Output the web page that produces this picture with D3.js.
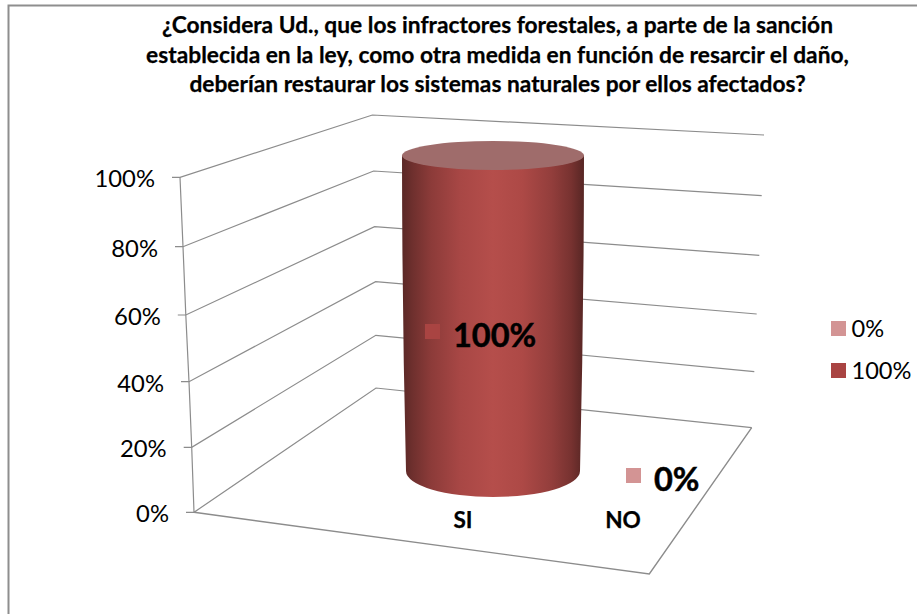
<!DOCTYPE html>
<html lang="es">
<head>
<meta charset="utf-8">
<title>Gráfico</title>
<script src="https://cdn.jsdelivr.net/npm/d3@7"></script>
<style>
html,body{margin:0;padding:0;background:#fff;}
svg{display:block;}
text{font-family:Lato,"Open Sans",sans-serif;fill:#000;}
</style>
</head>
<body>
<div id="chart"></div>
<script>
// ---- data ----
const titleLines = [
  "¿Considera Ud., que los infractores forestales, a parte de la sanción",
  "establecida en la ley, como otra medida en función de resarcir el daño,",
  "deberían restaurar los sistemas naturales por ellos afectados?"
];
const categories = ["SI", "NO"];
const values = [1, 0];
const tickValues = [0, 0.2, 0.4, 0.6, 0.8, 1];
const legendValues = [0, 1];

// ---- layout: calibration of the perspective edges (pixel positions per axis value) ----
const W = 917, H = 614;
const frontX = d3.scaleLinear().domain(tickValues).range([194, 191.7, 189, 185.8, 183, 180]);
const frontY = d3.scaleLinear().domain(tickValues).range([512.3, 447.3, 381.7, 315, 246.7, 177.3]);
const backX  = d3.scaleLinear().domain(tickValues).range([376, 375.8, 375.6, 374.6, 373.6, 372.4]);
const backY  = d3.scaleLinear().domain(tickValues).range([388, 335.3, 281.7, 226.7, 171, 115]);
const rightX = d3.scaleLinear().domain(tickValues).range([751.7, 754.3, 756.7, 759.3, 761.7, 764]);
const rightY = d3.scaleLinear().domain(tickValues).range([427.7, 371.7, 314, 255.3, 195.7, 135]);
const floorFront = [649.3, 574];
const fmt = d3.format(".0%");

const colorDark = "#a94442", colorLight = "#d39494";
const barFill = v => v > 0.5 ? colorDark : colorLight;

// category position inside the floor (labels and cylinder centres)
const catLabelX = d3.scalePoint().domain(categories).range([463, 623]);
const catLabelY = 528;
const cylX = d3.scalePoint().domain(categories).range([493, 660]);
const cylBaseY = d3.scalePoint().domain(categories).range([471, 490]);
const cylTopY = d3.scaleLinear().domain([0, 1]).range([471, 155.5]);
const cylRx = d3.scaleLinear().domain([0, 1]).range([87, 91]);
const cylRy = d3.scaleLinear().domain([0, 1]).range([26, 14.5]);

const svg = d3.select("#chart").append("svg").attr("width", W).attr("height", H);

const defs = svg.append("defs");
const grad = defs.append("linearGradient").attr("id", "cyl")
  .attr("x1", "0").attr("x2", "1").attr("y1", "0").attr("y2", "0");
[[0,"#5a2826"],[0.06,"#6f302e"],[0.16,"#8c3b39"],[0.32,"#a84745"],[0.5,"#b54e4b"],
 [0.66,"#ad4946"],[0.82,"#933e3c"],[0.93,"#773230"],[1,"#572624"]]
 .forEach(([o,c]) => grad.append("stop").attr("offset", o).attr("stop-color", c));

// frame
svg.append("path").attr("fill", "none").attr("stroke", "#8e8e8e").attr("stroke-width", 2)
  .attr("d", `M8.5 ${H}V5.5H${W}`);

// title
svg.append("g").selectAll("text").data(titleLines).join("text")
  .attr("x", 497.5).attr("y", (d, i) => 33 + i * 29.7)
  .attr("text-anchor", "middle").attr("font-weight", 700).attr("font-size", 22.75)
  .attr("stroke", "#000").attr("stroke-width", 0.25)
  .text(d => d);

// grid
const grid = svg.append("g").attr("fill", "none").attr("stroke", "#8c8c8c").attr("stroke-width", 1.2);
grid.selectAll("path.wall").data(tickValues).join("path").attr("class", "wall")
  .attr("d", v => d3.line()([[frontX(v) - 8, frontY(v)], [frontX(v), frontY(v)],
                             [backX(v), backY(v)], [rightX(v), rightY(v)]]));
grid.append("path").attr("d", d3.line()(tickValues.map(v => [frontX(v), frontY(v)])));
grid.append("path").attr("d", d3.line()([[frontX(0), frontY(0)], floorFront, [rightX(0), rightY(0)]]))
  .attr("stroke-width", 1.4);

// y labels
svg.append("g").selectAll("text").data(tickValues).join("text")
  .attr("x", v => frontX(v) - 25).attr("y", v => frontY(v) + 10)
  .attr("text-anchor", "end").attr("font-size", 23.8).text(fmt);

// cylinders
const bars = svg.append("g").selectAll("g").data(categories.map((c, i) => ({c, v: values[i]}))).join("g");
bars.filter(d => d.v > 0).each(function (d) {
  const g = d3.select(this);
  const cx = cylX(d.c), yb = cylBaseY(d.c), yt = cylTopY(d.v);
  const rb = cylRx(0), rt = cylRx(d.v), ryb = cylRy(0), ryt = cylRy(d.v);
  const ymid = (yb + yt) / 2, rmid = rb + (rt - rb) * 0.6;
  g.append("path").attr("fill", "url(#cyl)")
    .attr("d", `M${cx - rt} ${yt}Q${cx - rmid - 1.5} ${ymid} ${cx - rb} ${yb}` +
               `A${rb} ${ryb} 0 0 0 ${cx + rb} ${yb}` +
               `Q${cx + rmid + 1.5} ${ymid} ${cx + rt} ${yt}Z`);
  g.append("ellipse").attr("cx", cx).attr("cy", yt).attr("rx", rt).attr("ry", ryt).attr("fill", "#9f6c6b");
});

// category labels
svg.append("g").selectAll("text").data(categories).join("text")
  .attr("x", c => catLabelX(c)).attr("y", catLabelY)
  .attr("text-anchor", "middle").attr("font-weight", 700).attr("font-size", 22.6)
  .attr("stroke", "#000").attr("stroke-width", 0.25).text(c => c);

// data labels with keys
const labelKeyX = d3.scalePoint().domain(categories).range([425, 626]);
const labelKeyY = d3.scalePoint().domain(categories).range([324, 468]);
const dl = svg.append("g").selectAll("g").data(categories.map((c, i) => ({c, v: values[i]}))).join("g");
dl.append("rect").attr("x", d => labelKeyX(d.c)).attr("y", d => labelKeyY(d.c))
  .attr("width", 15).attr("height", 15).attr("fill", d => barFill(d.v));
dl.append("text").attr("x", d => labelKeyX(d.c) + 28).attr("y", d => labelKeyY(d.c) + 23)
  .attr("font-weight", 700).attr("font-size", 32.5).attr("stroke", "#000").attr("stroke-width", 0.5).text(d => fmt(d.v));

// legend
const lg = svg.append("g").selectAll("g").data(legendValues).join("g")
  .attr("transform", (d, i) => `translate(831,${321 + i * 42})`);
lg.append("rect").attr("width", 15).attr("height", 15).attr("fill", barFill);
lg.append("text").attr("x", 20.5).attr("y", 16).attr("font-size", 23.6).text(fmt);
</script>
</body>
</html>
